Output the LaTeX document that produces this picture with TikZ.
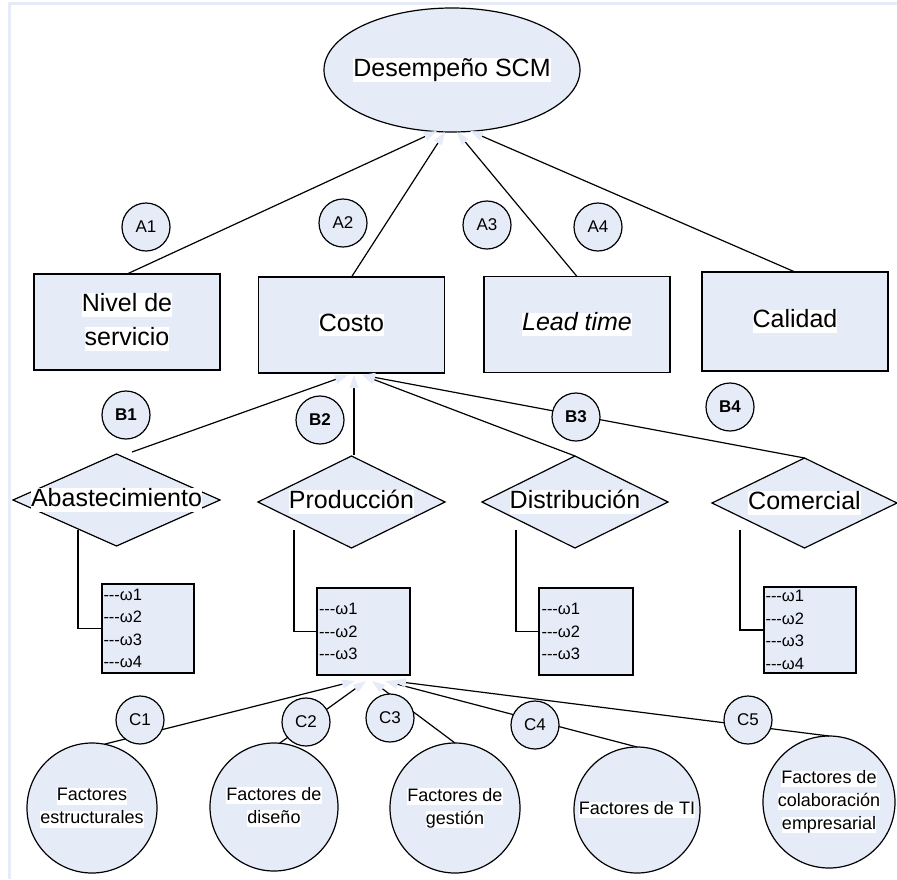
\documentclass[tikz,border=0pt]{standalone}
\usepackage{fontspec}
\setmainfont{Liberation Sans}
\usetikzlibrary{shapes.geometric,arrows.meta}
\definecolor{paleblue}{RGB}{229,235,247}
% white band behind a line of text
\newcommand\wbg[1]{{\setlength{\fboxsep}{0pt}\colorbox{white}{\vphantom{Xy}#1}}}
% three plain hyphens, no ligature
\newcommand\wdash{-{}-{}-}
\begin{document}
\begin{tikzpicture}[x=1pt,y=-1pt,
  every node/.style={inner sep=0pt,outer sep=0pt},
  edge/.style={line width=1.2pt},
  link/.style={edge,-{Triangle[length=13pt,width=9pt,color=paleblue]}},
  shp/.style={draw,line width=1.2pt,fill=paleblue},
  big/.style={font=\fontsize{25}{34}\selectfont,align=center},
  crit/.style={shp,big,rectangle,minimum width=186pt,minimum height=96pt},
  proc/.style={shp,diamond,minimum width=#1,minimum height=92pt},
  wbox/.style={shp,rectangle,minimum width=92pt,minimum height=88pt,
    font=\fontsize{16.5}{22.5}\selectfont,align=left,text width=89pt},
  tag/.style={shp,circle,minimum size=48pt,font=\fontsize{17}{17}\selectfont},
  btag/.style={tag,font=\fontsize{17}{17}\selectfont\bfseries},
  factor/.style={shp,circle,minimum size=#1,font=\fontsize{18}{23}\selectfont,align=center},
]
\useasboundingbox (0,0) rectangle (897,879);
% frame strips
\fill[paleblue] (8,2) rectangle (897,5);
\fill[paleblue] (8,2) rectangle (11,879);

% top goal
\node[shp,ellipse,minimum width=256pt,minimum height=124pt] (scm) at (452,70) {};
\node[big] (scmT) at (scm.center) {\wbg{Desempeño SCM}};

% criteria
\node[crit] (nivel) at (127,322) {\wbg{Nivel de}\\\wbg{servicio}};
\node[crit] (costo) at (351.5,325) {\wbg{Costo}};
\node[crit] (lead) at (577,324.5) {\wbg{\itshape Lead time}};
\node[crit,minimum height=99pt] (calidad) at (795,321.5) {\wbg{Calidad}};

% processes
\node[proc=207pt] (abas) at (116.5,500) {};
\node[proc=187pt] (prod) at (351.5,502) {};
\node[proc=186pt] (dist) at (575,502) {};
\node[proc=185pt,minimum height=90pt] (com) at (804.5,503) {};
\node[big] (abasT) at (abas.center) {\wbg{Abastecimiento}};
\node[big] (prodT) at (prod.center) {\wbg{Producción}};
\node[big] (distT) at (dist.center) {\wbg{Distribución}};
\node[big] (comT) at (com.center) {\wbg{Comercial}};

% weight lists
\node[wbox,minimum height=89pt] (wa) at (148,628.5) {\wdash ω1\\\wdash ω2\\\wdash ω3\\\wdash ω4};
\node[wbox,minimum width=93pt,minimum height=87pt] (wp) at (363.5,631.5) {\wdash ω1\\\wdash ω2\\\wdash ω3};
\node[wbox,minimum width=94pt,minimum height=87pt] (wd) at (586,631.5) {\wdash ω1\\\wdash ω2\\\wdash ω3};
\node[wbox,minimum height=86pt] (wc) at (810,630) {\wdash ω1\\\wdash ω2\\\wdash ω3\\\wdash ω4};

% factors
\node[factor=130pt] (est) at (92,808) {\wbg{Factores}\\\wbg{estructurales}};
\node[factor=128pt] (dis) at (274,807) {\wbg{Factores de}\\\wbg{diseño}};
\node[factor=130pt] (ges) at (455,808) {\wbg{Factores de}\\\wbg{gestión}};
\node[factor=126pt] (ti) at (637,810) {\wbg{Factores de TI}};
\node[factor=132pt] (col) at (829,802) {\wbg{Factores de}\\\wbg{colaboración}\\\wbg{empresarial}};

% connector ends
\coordinate (tA1) at (437,131);
\coordinate (tA2) at (445,132);
\coordinate (tA3) at (457,132);
\coordinate (tA4) at (470,131);
\coordinate (tB1) at (348,375);
\coordinate (tB2) at (354,375);
\coordinate (tB3) at (362,375);
\coordinate (tC1) at (355,681);
\coordinate (tC2) at (366,681);
\coordinate (tC3) at (372,681);
\coordinate (tC4) at (385,681);
\coordinate (tC5) at (393,681);
\coordinate (abasTop) at (132,452);
\coordinate (prodTop) at (354,455);
\coordinate (abasFoot) at (78,530);
\coordinate (prodFoot) at (294,530);
\coordinate (distFoot) at (516,530);
\coordinate (comFoot) at (740,530);

% criteria to goal
\draw[link] (nivel.north) -- (tA1);
\draw[link] (costo.north) -- (tA2);
\draw[link] (lead.north) -- (tA3);
\draw[link] (calidad.north) -- (tA4);
% processes to cost
\draw[link] (abasTop) -- (tB1);
\draw[link] (prodTop) -- (tB2);
\draw[link] (dist.north) -- (tB3);
\draw[link] (com.north) -- (tB3);
% processes to weight lists
\draw[edge] (abasFoot) |- (wa.west);
\draw[edge] (prodFoot) |- (wp.west);
\draw[edge] (distFoot) |- (wd.west);
\draw[edge] (comFoot) |- (wc.west);
% factors to production weights
\draw[link] (est.79) -- (tC1);
\draw[link] (dis.85) -- (tC2);
\draw[link] (ges.north) -- (tC3);
\draw[link] (ti.north) -- (tC4);
\draw[link] (col.north) -- (tC5);

% link tags
\node[tag] (a1) at (146,227) {A1};
\node[tag] (a2) at (343,223) {A2};
\node[tag] (a3) at (487,225) {A3};
\node[tag] (a4) at (598,227) {A4};
\node[btag] (b1) at (126,415) {B1};
\node[btag] (b2) at (320,420) {B2};
\node[btag] (b3) at (576,417) {B3};
\node[btag] (b4) at (730,407) {B4};
\node[tag] (c1) at (140,720) {C1};
\node[tag] (c2) at (306,722) {C2};
\node[tag] (c3) at (390,718) {C3};
\node[tag] (c4) at (535,725) {C4};
\node[tag] (c5) at (748,720) {C5};
\end{tikzpicture}
\end{document}
